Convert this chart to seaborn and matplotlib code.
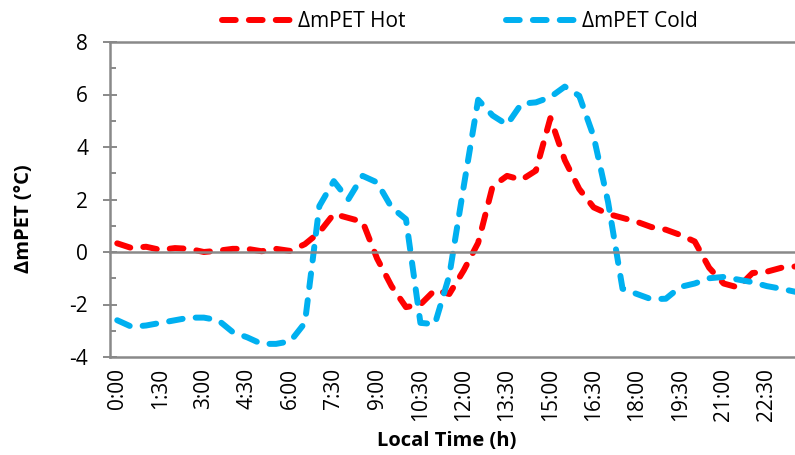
# ΔmPET hot vs cold over one day (half-hour steps)

import numpy as np
import pandas as pd
import matplotlib
matplotlib.use("Agg")
import matplotlib.pyplot as plt
import seaborn as sns
from matplotlib.ticker import MultipleLocator

# data
times = [f"{h}:{m:02d}" for h in range(24) for m in (0, 30)]

hot = [0.33, 0.15, 0.20, 0.08, 0.15, 0.12, 0.00, 0.05, 0.12, 0.12,
       0.03, 0.12, 0.04, 0.30, 0.75, 1.45, 1.30, 1.15, -0.25, -1.30,
       -2.10, -2.00, -1.45, -1.60, -0.70, 0.35, 2.50, 2.90, 2.75, 3.10,
       5.10, 3.50, 2.40, 1.70, 1.45, 1.30, 1.15, 0.95, 0.85, 0.65,
       0.40, -0.60, -1.20, -1.35, -0.80, -0.75, -0.60, -0.55]

cold = [-2.60, -2.85, -2.80, -2.70, -2.60, -2.50, -2.50, -2.60, -3.05, -3.25,
        -3.50, -3.50, -3.40, -2.70, 1.75, 2.70, 2.00, 2.90, 2.65, 1.70,
        1.25, -2.70, -2.75, -0.90, 2.50, 5.80, 5.20, 4.85, 5.65, 5.70,
        5.90, 6.30, 5.95, 4.40, 1.90, -1.40, -1.60, -1.80, -1.78, -1.33,
        -1.20, -1.00, -0.95, -1.05, -1.15, -1.30, -1.40, -1.52]

series = ["ΔmPET Hot", "ΔmPET Cold"]
colours = ["#FF0000", "#00B0F0"]

df = pd.DataFrame({"step": np.arange(len(times)), "time": times,
                   series[0]: hot, series[1]: cold})

sns.set_theme(style="white")
plt.rcParams['font.family'] = ['Open Sans', 'DejaVu Sans']
plt.rcParams['axes.unicode_minus'] = False
plt.rcParams['text.color'] = 'black'
plt.rcParams['axes.labelcolor'] = 'black'

gray = "#898989"
fs = 15

fig = plt.figure(figsize=(7.95, 4.55), dpi=100)
ax = fig.add_axes([110 / 795, 1 - 357 / 455, 693 / 795, 315 / 455])

for name, colour in zip(series, colours):
    sns.lineplot(data=df, x="step", y=name, color=colour, linewidth=4.3,
                 label=name, ax=ax)
for line in ax.get_lines():
    line.set_dashes((2.3, 2.2))
    line.set_dash_capstyle('round')

ax.set_xlim(-0.5, 47.5)
ax.set_ylim(-4, 8)

# spines: left, top, zero line with category ticks
for side in ["left", "top", "bottom"]:
    ax.spines[side].set_color(gray)
    ax.spines[side].set_linewidth(1.8)
ax.spines["right"].set_visible(False)
ax.spines["bottom"].set_position(("data", 0))

ax.set_xticks(np.arange(-0.5, 48, 1))
ax.set_xticklabels([])
ax.tick_params(axis="x", direction="out", length=5, width=1.4, color=gray)

ax.yaxis.set_major_locator(MultipleLocator(2))
ax.yaxis.set_minor_locator(MultipleLocator(1))
ax.tick_params(axis="y", which="major", direction="inout", length=9.5,
               width=1.4, color=gray, labelsize=fs, labelcolor="black",
               pad=11, left=True)
ax.tick_params(axis="y", which="minor", direction="in", length=4.5,
               width=1.4, color=gray, left=True)

# time labels on the bottom line
sec = ax.secondary_xaxis("bottom")
sec.set_xticks(np.arange(0, 48, 3))
sec.set_xticklabels(times[::3])
sec.tick_params(axis="x", length=0, pad=8, labelsize=fs, labelcolor="black",
                labelrotation=90)
sec.spines["bottom"].set_color(gray)
sec.spines["bottom"].set_linewidth(1.8)

ax.set_xlabel("Local Time (h)", fontsize=14.5, fontweight="bold")
ax.xaxis.set_label_coords(0.486, -0.235)
ax.set_ylabel("ΔmPET (°C)", fontsize=14.5, fontweight="bold")
ax.yaxis.set_label_coords(-0.110, 0.44)

ax.legend(loc="center", bbox_to_anchor=(460 / 795, 0.952),
          bbox_transform=fig.transFigure, ncol=2, frameon=False,
          handlelength=3.4, handletextpad=0.25, columnspacing=4.8,
          fontsize=fs)

fig.savefig("out.png", dpi=100)
